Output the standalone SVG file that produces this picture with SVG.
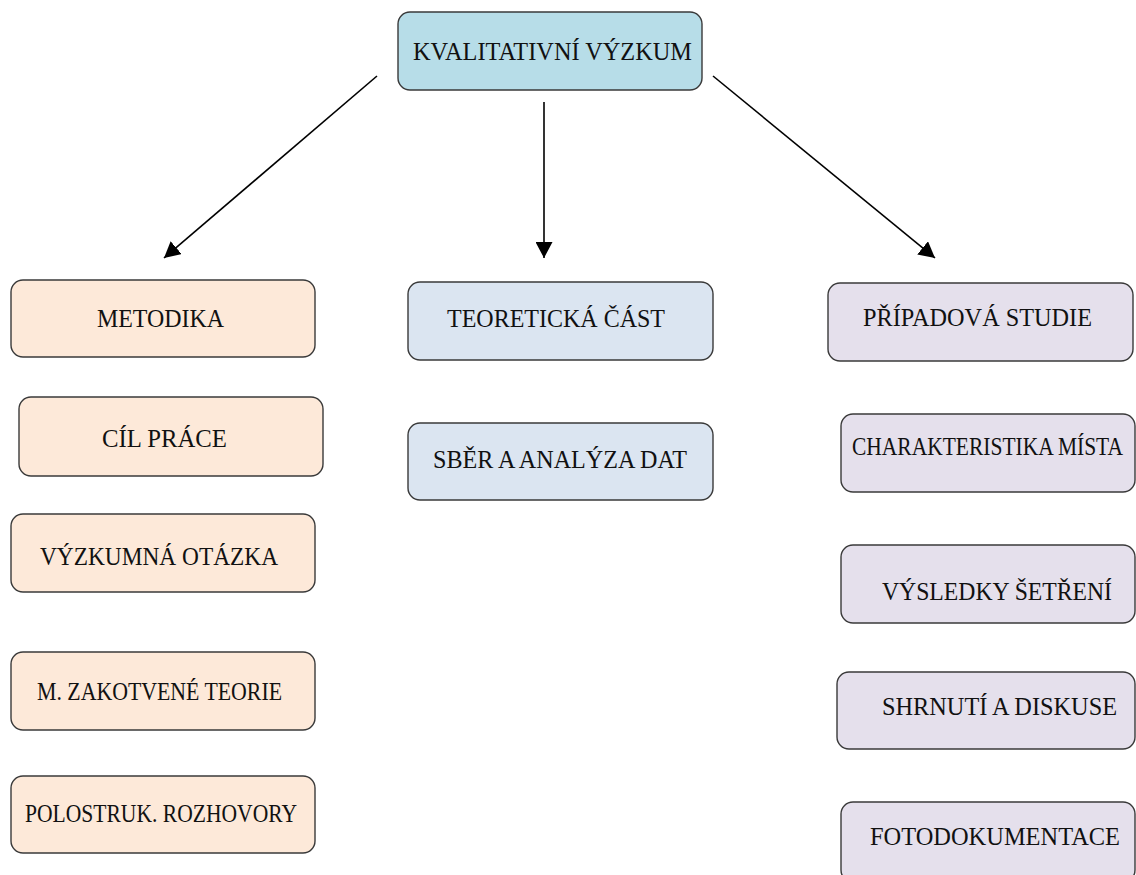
<svg xmlns="http://www.w3.org/2000/svg" width="1136" height="875" viewBox="0 0 1136 875">
<style>
.box{stroke:#3a3a3a;stroke-width:1.4}
.top{fill:#b7dde8}
.or{fill:#fde9d9}
.bl{fill:#dbe5f1}
.pu{fill:#e5e0ec}
text{font-family:"Liberation Serif","Times New Roman",serif;font-size:25px;fill:#111}
.conn{stroke:#000;stroke-width:1.6;fill:none}
</style>
<defs>
<marker id="ah" markerUnits="userSpaceOnUse" markerWidth="17" markerHeight="17" refX="16" refY="8.5" orient="auto">
<path d="M0,0 L16,8.5 L0,17 Z" fill="#000"/>
</marker>
</defs>
<rect width="1136" height="875" fill="#fff"/>
<g id="connectors">
<line class="conn" x1="377" y1="76" x2="164" y2="258" marker-end="url(#ah)"/>
<line class="conn" x1="544" y1="102" x2="544" y2="258" marker-end="url(#ah)"/>
<line class="conn" x1="713" y1="76" x2="935" y2="258" marker-end="url(#ah)"/>
</g>
<g id="kvalitativni">
<rect class="box top" x="398" y="12" width="304" height="78" rx="12"/>
<text x="413" y="60" textLength="279" lengthAdjust="spacingAndGlyphs">KVALITATIVNÍ VÝZKUM</text>
</g>
<g id="metodika">
<rect class="box or" x="11" y="280" width="304" height="77" rx="12"/>
<text x="97" y="327" textLength="127" lengthAdjust="spacingAndGlyphs">METODIKA</text>
</g>
<g id="cil">
<rect class="box or" x="19" y="397" width="304" height="79" rx="12"/>
<text x="102" y="447" textLength="125" lengthAdjust="spacingAndGlyphs">CÍL PRÁCE</text>
</g>
<g id="otazka">
<rect class="box or" x="11" y="514" width="304" height="78" rx="12"/>
<text x="40" y="565" textLength="238" lengthAdjust="spacingAndGlyphs">VÝZKUMNÁ OTÁZKA</text>
</g>
<g id="zakotvene">
<rect class="box or" x="11" y="652" width="304" height="78" rx="12"/>
<text x="37" y="700" textLength="245" lengthAdjust="spacingAndGlyphs">M. ZAKOTVENÉ TEORIE</text>
</g>
<g id="rozhovory">
<rect class="box or" x="11" y="776" width="304" height="77" rx="12"/>
<text x="25" y="822" textLength="272" lengthAdjust="spacingAndGlyphs">POLOSTRUK. ROZHOVORY</text>
</g>
<g id="teoreticka">
<rect class="box bl" x="408" y="282" width="305" height="78" rx="12"/>
<text x="447" y="327" textLength="218" lengthAdjust="spacingAndGlyphs">TEORETICKÁ ČÁST</text>
</g>
<g id="sber">
<rect class="box bl" x="408" y="423" width="305" height="77" rx="12"/>
<text x="433" y="468" textLength="254" lengthAdjust="spacingAndGlyphs">SBĚR A ANALÝZA DAT</text>
</g>
<g id="pripadova">
<rect class="box pu" x="828" y="283" width="305" height="78" rx="12"/>
<text x="863" y="326" textLength="229" lengthAdjust="spacingAndGlyphs">PŘÍPADOVÁ STUDIE</text>
</g>
<g id="charakteristika">
<rect class="box pu" x="841" y="414" width="294" height="78" rx="12"/>
<text x="852" y="455" textLength="271" lengthAdjust="spacingAndGlyphs">CHARAKTERISTIKA MÍSTA</text>
</g>
<g id="vysledky">
<rect class="box pu" x="841" y="545" width="294" height="78" rx="12"/>
<text x="882" y="600" textLength="230" lengthAdjust="spacingAndGlyphs">VÝSLEDKY ŠETŘENÍ</text>
</g>
<g id="shrnuti">
<rect class="box pu" x="837" y="672" width="298" height="77" rx="12"/>
<text x="882" y="715" textLength="235" lengthAdjust="spacingAndGlyphs">SHRNUTÍ A DISKUSE</text>
</g>
<g id="fotodokumentace">
<rect class="box pu" x="841" y="802" width="294" height="80" rx="12"/>
<text x="870" y="845" textLength="250" lengthAdjust="spacingAndGlyphs">FOTODOKUMENTACE</text>
</g>
</svg>
